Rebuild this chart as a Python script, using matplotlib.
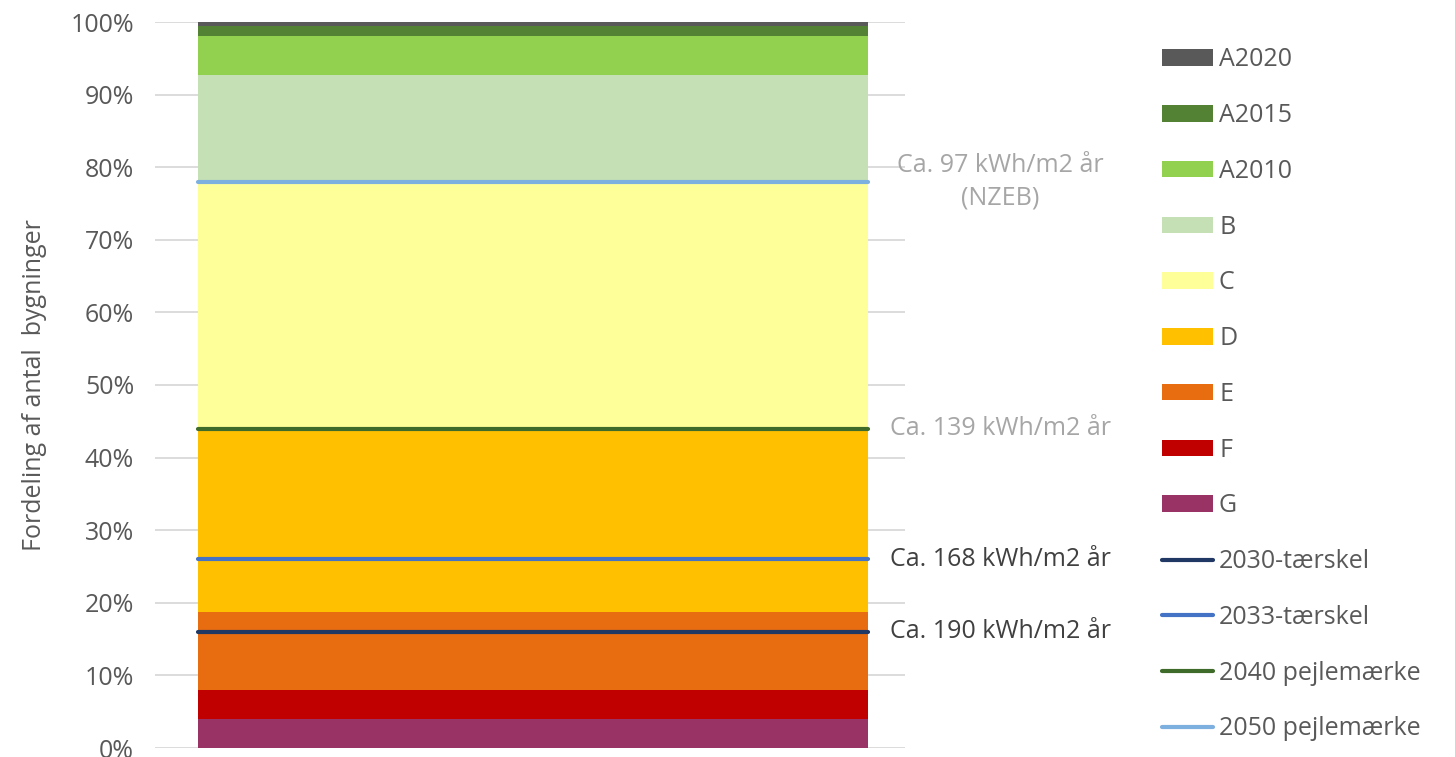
import matplotlib
matplotlib.use('Agg')
import matplotlib.pyplot as plt
from matplotlib.patches import Patch
from matplotlib.lines import Line2D

plt.rcParams['font.family'] = ['Open Sans', 'DejaVu Sans']

# energimærker, nederst til øverst (andel af bygninger)
klasser = ['G', 'F', 'E', 'D', 'C', 'B', 'A2010', 'A2015', 'A2020']
andele = [0.040, 0.040, 0.107, 0.253, 0.340, 0.147, 0.054, 0.014, 0.005]
farver = ['#993366', '#C00000', '#E86C10', '#FFC000', '#FFFF99',
          '#C5E0B4', '#92D050', '#548235', '#595959']

# tærskler og pejlemærker
linje_navne = ['2030-tærskel', '2033-tærskel', '2040 pejlemærke', '2050 pejlemærke']
linje_vaerdier = [0.16, 0.26, 0.44, 0.78]
linje_farver = ['#1F3864', '#4472C4', '#3E6B29', '#7EB0DF']
linje_tekster = ['Ca. 190 kWh/m2 år', 'Ca. 168 kWh/m2 år',
                 'Ca. 139 kWh/m2 år', 'Ca. 97 kWh/m2 år\n(NZEB)']
tekst_farver = ['#404040', '#404040', '#A6A6A6', '#A6A6A6']

fs = 18

fig = plt.figure(figsize=(14.55, 7.57), dpi=100)
ax = fig.add_axes([155 / 1455, 9 / 757, 750 / 1455, 726 / 757])

bredde = 0.893
x0 = 0.004
bund = 0
for k, a, f in zip(klasser, andele, farver):
    ax.bar(x0, a, width=bredde, bottom=bund, color=f, zorder=2)
    bund += a

venstre = x0 - bredde / 2
hoejre = x0 + bredde / 2
for navn, v, f in zip(linje_navne, linje_vaerdier, linje_farver):
    ax.plot([venstre, hoejre], [v, v], color=f, lw=3, solid_capstyle='round', zorder=3)

for v, t, tf in zip(linje_vaerdier, linje_tekster, tekst_farver):
    if '\n' in t:
        ax.text(0.627, v, t, ha='center', va='center', color=tf, fontsize=fs,
                linespacing=1.35, zorder=4, clip_on=False)
    else:
        ax.text(0.48, v, t, ha='left', va='center', color=tf, fontsize=fs,
                zorder=4, clip_on=False)

ax.set_xlim(-0.5, 0.5)
ax.set_ylim(0, 1)
ax.set_yticks([i / 10 for i in range(11)])
ax.set_yticklabels([f'{i * 10}%' for i in range(11)])
ax.set_xticks([])
ax.tick_params(axis='y', length=0, labelsize=fs, labelcolor='#595959', pad=15)
ax.grid(axis='y', color='#D9D9D9', lw=1.3, zorder=0)
ax.set_axisbelow(True)
for s in ax.spines.values():
    s.set_visible(False)
ax.set_ylabel('Fordeling af antal  bygninger', fontsize=fs, color='#595959', labelpad=17)

handles = [Patch(facecolor=f, edgecolor='none') for f in farver[::-1]]
handles += [Line2D([0], [0], color=f, lw=3, solid_capstyle='round') for f in linje_farver]
labels = klasser[::-1] + linje_navne
fig.legend(handles, labels, loc='center left', bbox_to_anchor=(1139 / 1455, 0.479),
           frameon=False, fontsize=fs, labelcolor='#595959', labelspacing=1.23,
           handlelength=2.05, handleheight=0.63, handletextpad=0.25)

fig.savefig('out.png', dpi=100)
